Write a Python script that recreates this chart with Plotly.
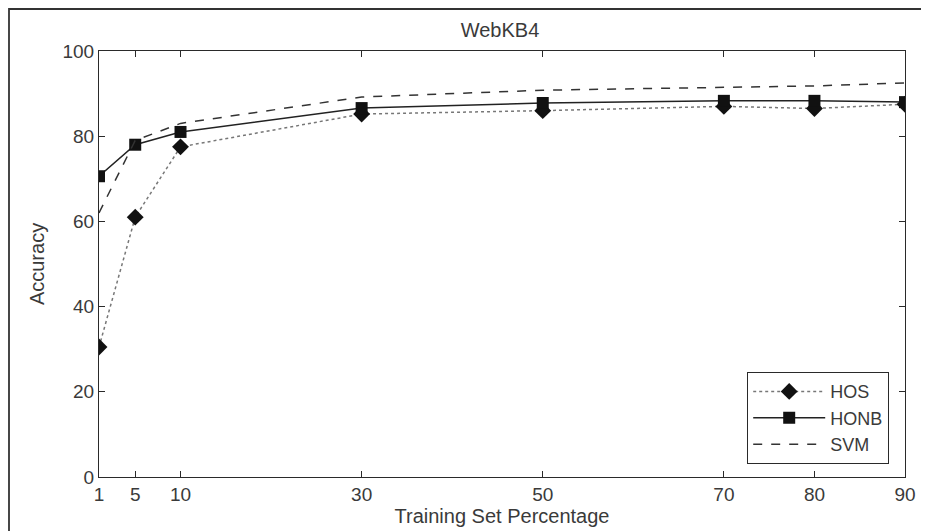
import plotly.graph_objects as go

train_pct = [1, 5, 10, 30, 50, 70, 80, 90]
hos = [30.5, 61, 77.5, 85.2, 86.0, 87.0, 86.5, 87.5]
honb = [70.6, 78.0, 81.0, 86.6, 87.8, 88.3, 88.3, 88.0]
svm = [62.0, 79.0, 83.0, 89.2, 90.8, 91.5, 91.8, 92.5]
x_ticks = [1, 5, 10, 30, 50, 70, 80, 90]
y_ticks = [0, 20, 40, 60, 80, 100]

font_family = "Liberation Sans, Arial, sans-serif"
ink = "#2a2a2a"
txt = "#3a3a3a"

# page body has an 8px margin, so the figure is sized to fill the rest of the window
W, H = 921, 523
L, R, T, B = 91, 24, 43, 54
PW, PH = W - L - R, H - T - B

fig = go.Figure()
fig.add_trace(go.Scatter(
    x=train_pct, y=hos, name="HOS", mode="lines+markers",
    line=dict(color="#777777", width=1.5, dash="dot"),
    marker=dict(symbol="diamond", size=13, color="#111111"),
))
fig.add_trace(go.Scatter(
    x=train_pct, y=honb, name="HONB", mode="lines+markers",
    line=dict(color="#222222", width=1.5),
    marker=dict(symbol="square", size=12, color="#111111"),
))
fig.add_trace(go.Scatter(
    x=train_pct, y=svm, name="SVM", mode="lines",
    line=dict(color="#333333", width=1.5, dash="dash"),
))

axis_common = dict(
    showgrid=False, zeroline=False, showline=True, linecolor=ink, linewidth=1.2,
    mirror="ticks", ticks="inside", ticklen=6, tickcolor=ink, automargin=False,
    tickfont=dict(family=font_family, size=19, color=txt),
)
fig.update_xaxes(range=[1, 90], tickvals=x_ticks, ticktext=[str(v) for v in x_ticks],
                 title=dict(text="Training Set Percentage", standoff=2,
                            font=dict(family=font_family, size=20, color=txt)),
                 **axis_common)
fig.update_yaxes(range=[0, 100], tickvals=y_ticks,
                 title=dict(text="Accuracy", standoff=12,
                            font=dict(family=font_family, size=20, color=txt)),
                 **axis_common)

fig.update_layout(
    width=W, height=H,
    margin=dict(l=L, r=R, t=T, b=B),
    paper_bgcolor="white", plot_bgcolor="white",
    title=dict(text="WebKB4", x=492 / W, xanchor="center", y=1 - 22 / H, yanchor="middle",
               font=dict(family=font_family, size=20, color=txt)),
    legend=dict(x=(881 - L) / PW, y=(H - B - 456) / PH, xanchor="right", yanchor="bottom",
                bgcolor="white", bordercolor=ink, borderwidth=1.2,
                font=dict(family=font_family, size=18, color=txt),
                itemwidth=72, tracegroupgap=0),
    showlegend=True,
    shapes=[dict(type="rect", xref="paper", yref="paper",
                 x0=(1 - L) / PW, x1=(W + 5 - L) / PW,
                 y0=(H - B - (H + 10)) / PH, y1=(H - B - 1) / PH,
                 line=dict(color="#333333", width=1.8), layer="below")],
)

fig.write_html("out.html")
